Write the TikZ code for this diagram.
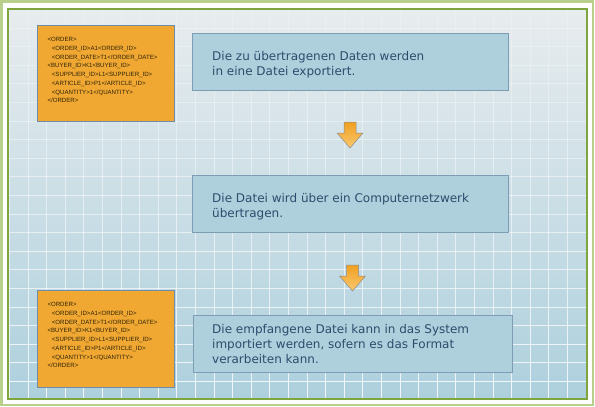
\documentclass[tikz,border=0pt]{standalone}
\usepackage{fontspec}
\setmainfont{DejaVu Sans}
\newfontfamily\xmlfont{Liberation Sans}
\definecolor{outergreen}{HTML}{B8D08C}
\definecolor{innergreen}{HTML}{7FA63E}
\definecolor{bgtop}{HTML}{E8ECEE}
\definecolor{bgbot}{HTML}{ADD0DD}
\definecolor{orangefill}{HTML}{F0A832}
\definecolor{orangeline}{HTML}{6F8DAA}
\definecolor{bluefill}{HTML}{AED0DC}
\definecolor{blueline}{HTML}{7C9DB4}
\definecolor{bluetext}{HTML}{2C4C6C}
\definecolor{xmltext}{HTML}{2E2208}
\definecolor{arrowtop}{HTML}{F0A020}
\definecolor{arrowbot}{HTML}{F9C870}
\definecolor{arrowline}{HTML}{8C8C8C}
\tikzset{
  xmlbox/.style={draw=orangeline, line width=0.9pt, fill=orangefill, inner sep=0pt},
  infobox/.style={draw=blueline, line width=0.9pt, fill=bluefill, inner sep=0pt, minimum height=57pt},
  infotext/.style={anchor=base west, inner sep=0pt, text=bluetext, font=\fontsize{12}{15}\selectfont},
  xmltxt/.style={anchor=base west, inner sep=0pt, text=xmltext, font=\xmlfont\fontsize{6.1}{8}\selectfont},
  gridline/.style={white, line width=0.8pt},
  blockarrow/.style={top color=arrowtop, bottom color=arrowbot, draw=arrowline, line width=0.5pt, line join=miter}
}
\newcommand{\xmlblock}[3]{% name, x, first baseline
  \node[xmltxt] (#1l1) at (#2, #3) {<ORDER>};
  \node[xmltxt] (#1l2) at (#2+4.4, #3+8.75) {<ORDER\_ID>A1<ORDER\_ID>};
  \node[xmltxt] (#1l3) at (#2+4.4, #3+17.5) {<ORDER\_DATE>T1</ORDER\_DATE>};
  \node[xmltxt] (#1l4) at (#2, #3+26.25) {<BUYER\_ID>K1<BUYER\_ID>};
  \node[xmltxt] (#1l5) at (#2+4.4, #3+35) {<SUPPLIER\_ID>L1<SUPPLIER\_ID>};
  \node[xmltxt] (#1l6) at (#2+4.4, #3+43.75) {<ARTICLE\_ID>P1</ARTICLE\_ID>};
  \node[xmltxt] (#1l7) at (#2+4.4, #3+52.5) {<QUANTITY>1</QUANTITY>};
  \node[xmltxt] (#1l8) at (#2, #3+61.25) {</ORDER>};
}
\begin{document}
\begin{tikzpicture}[x=1pt,y=-1pt]
\useasboundingbox (0,0) rectangle (595,407);
% frames
\fill[white] (0,0) rectangle (595,407);
\draw[outergreen, line width=2.5pt] (1.25,1.25) rectangle (593,405);
\shade[top color=bgtop, bottom color=bgbot] (8,9) rectangle (587,399);
\begin{scope}
  \clip (8,9) rectangle (587,399);
  \foreach \gy in {0,...,21}{
    \pgfmathsetmacro{\op}{0.2+0.65*\gy/21}
    \draw[gridline, opacity=\op] (8,{9.4+18.6*\gy}) -- (587,{9.4+18.6*\gy});
    \foreach \gx in {0,...,31}
      \draw[gridline, opacity=\op] ({9.4+18.6*\gx},{9.4+18.6*\gy}) -- ({9.4+18.6*\gx},{9.4+18.6*(\gy+1)});
  }
\end{scope}
\draw[innergreen, line width=1.1pt] (8,9) rectangle (587,399);

% boxes
\node[xmlbox, minimum width=137pt, minimum height=96pt] (o1) at (105.5,73) {};
\node[xmlbox, minimum width=137pt, minimum height=97pt] (o2) at (105.5,338.5) {};
\node[infobox, minimum width=316pt] (b1) at (350,61.5) {};
\node[infobox, minimum width=316pt] (b2) at (350,203.5) {};
\node[infobox, minimum width=319pt] (b3) at (352.5,343.5) {};

% xml text
\xmlblock{x}{47.3}{41.6}
\xmlblock{y}{47.3}{306.6}

% info text
\node[infotext] (t1a) at (212,60) {Die zu übertragenen Daten werden};
\node[infotext] (t1b) at (212,75) {in eine Datei exportiert.};
\node[infotext] (t2a) at (212,202) {Die Datei wird über ein Computernetzwerk};
\node[infotext] (t2b) at (212,217) {übertragen.};
\node[infotext] (t3a) at (212,333) {Die empfangene Datei kann in das System};
\node[infotext] (t3b) at (212,348) {importiert werden, sofern es das Format};
\node[infotext] (t3c) at (212,363) {verarbeiten kann.};

% block arrows
\coordinate (a1) at (350,122);
\coordinate (a2) at (352.5,265);
\foreach \a in {a1,a2}{
  \shadedraw[blockarrow] ([xshift=-6pt]\a) -- ([xshift=6pt]\a) -- ([xshift=6pt,yshift=-11pt]\a)
    -- ([xshift=13pt,yshift=-11pt]\a) -- ([yshift=-26pt]\a) -- ([xshift=-13pt,yshift=-11pt]\a)
    -- ([xshift=-6pt,yshift=-11pt]\a) -- cycle;
}
\end{tikzpicture}
\end{document}
